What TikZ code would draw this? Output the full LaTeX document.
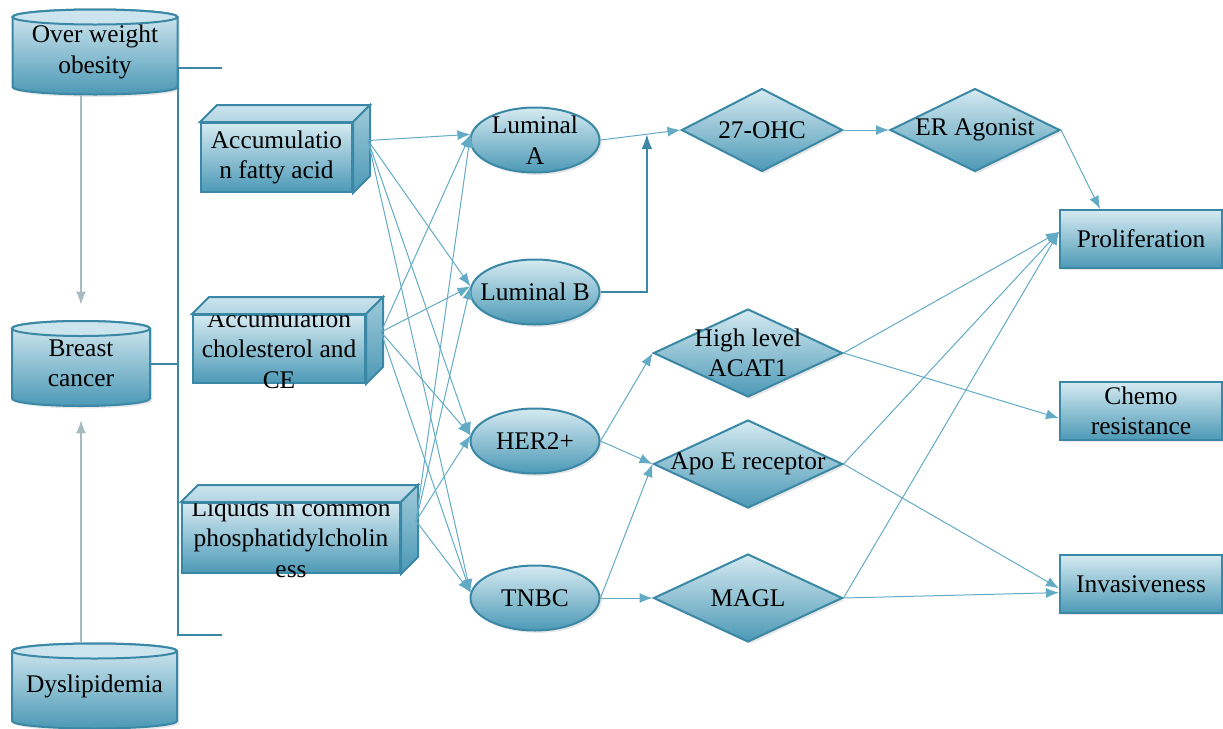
\documentclass[tikz,border=0pt]{standalone}
\usepackage{fontspec}
\setmainfont{Liberation Serif}
\usetikzlibrary{arrows.meta,positioning,shapes.geometric,calc,shadows}
\definecolor{Edge}{HTML}{3A88A5}
\definecolor{Light}{HTML}{D5EAF1}
\definecolor{Deep}{HTML}{4C99B6}
\definecolor{Lid}{HTML}{CBE4ED}
\definecolor{Wire}{HTML}{63AAC5}
\definecolor{Ash}{HTML}{A9BBC2}
\newcommand\dfont{\rmfamily\fontsize{12.7}{15.2}\selectfont}
\tikzset{
  bluefill/.style={draw=Edge, line width=1pt, top color=Light, bottom color=Deep},
  softshadow/.style={drop shadow={opacity=0.18, shadow xshift=1.2pt, shadow yshift=-1.2pt}},
  cyllid/.style={draw=Edge, line width=1pt, fill=Lid},
  cyltext/.style={rectangle, inner sep=0pt, align=center, font=\dfont},
  cube/.style={rectangle, bluefill, inner xsep=0pt, inner ysep=-5pt, align=center, font=\dfont},
  oval/.style={ellipse, bluefill, softshadow, minimum width=64.5pt, minimum height=32.5pt, inner sep=-6pt, align=center, font=\dfont},
  dia/.style={diamond, bluefill, softshadow, shape aspect=2.15, inner sep=-4pt, align=center, font=\dfont},
  outbox/.style={rectangle, bluefill, softshadow, minimum width=81pt, minimum height=29pt, inner sep=1pt, align=center, font=\dfont},
  arr/.style={-{Latex[length=6.5pt,width=5pt]}, draw=Wire, line width=0.5pt},
  grayarr/.style={-{Latex[length=6.5pt,width=5pt]}, draw=Ash, line width=0.6pt},
  elbow/.style={-{Latex[length=7.5pt,width=5.5pt]}, draw=Edge, line width=1pt},
  bracket/.style={draw=Edge, line width=1pt}
}
% cylinder: name, centre, half width, text
\newcommand\drawcyl[4]{%
  \draw[bluefill, softshadow] ($(#2)+(-#3,-35)$) -- ($(#2)+(-#3,35)$)
    arc[start angle=180, end angle=360, x radius=#3*0.5pt, y radius=3.75pt]
    -- ($(#2)+(#3,-35)$)
    arc[start angle=0, end angle=180, x radius=#3*0.5pt, y radius=3.75pt] -- cycle;
  \draw[cyllid] ($(#2)+(0,-35)$) ellipse[x radius=#3*0.5pt, y radius=3.75pt];
  \node[cyltext, minimum width=#3pt, minimum height=35pt] (#1) at (#2) {#4};
}
% top and side of a box
\newcommand\cubefaces[1]{%
  \draw[bluefill, top color=Lid, bottom color=Lid!80!Deep] (#1.north west) -- ++(17,-17)
    -- ($(#1.north east)+(17,-17)$) -- (#1.north east) -- cycle;
  \draw[bluefill, top color=Light!60!Deep, bottom color=Deep] (#1.north east) -- ++(17,-17)
    -- ($(#1.south east)+(17,-17)$) -- (#1.south east) -- cycle;
  \coordinate (#1-o) at ($(#1.east)+(15,-17)$);
}
\begin{document}
\begin{tikzpicture}[x=0.5pt, y=-0.5pt]
\useasboundingbox (0,0) rectangle (1223,729);

% risk factors
\drawcyl{ow}{95,52}{82.5}{Over weight\\obesity}
\drawcyl{bc}{81,363.5}{69}{Breast\\cancer}
\drawcyl{dy}{94.5,686}{82.5}{Dyslipidemia}
\draw[grayarr, shorten <=4pt, shorten >=11.75pt] (ow.south -| bc) -- (bc.north);
\draw[grayarr, shorten <=3.75pt, shorten >=10.75pt] (dy.north -| bc) -- (bc.south);

\coordinate (brk-top) at (222,68);
\coordinate (brk-bot) at (222,635);
\coordinate (brk-mid) at (178,363.5);
\draw[bracket] (brk-top) -- ++(-44,0) |- (brk-bot);
\draw[bracket] (bc.east) -- (brk-mid);

% lipids
\node[cube, minimum width=75.5pt, minimum height=34.5pt] (fa) at (276.5,157.5) {Accumulatio\\n fatty acid};
\node[cube, minimum width=86pt, minimum height=34pt] (ch) at (279,349) {Accumulation\\cholesterol and\\CE};
\node[cube, minimum width=109pt, minimum height=35pt] (lq) at (291,538) {Liquids in common\\phosphatidylcholin\\ess};
\cubefaces{fa}
\cubefaces{ch}
\cubefaces{lq}

% subtypes
\node[oval] (la) at (535,140) {Luminal\\A};
\node[oval] (lb) at (535,292) {Luminal B};
\node[oval] (her) at (535,441) {HER2+};
\node[oval] (tnbc) at (535,598) {TNBC};

% mediators
\node[dia, minimum width=80.5pt, minimum height=41.5pt] (ohc) at (762,130) {27-OHC};
\node[dia, minimum width=85pt, minimum height=41.5pt] (er) at (975,130) {ER Agonist};
\node[dia, minimum width=94.5pt, minimum height=44pt] (acat) at (748,353) {High level\\ACAT1};
\node[dia, minimum width=94.5pt, minimum height=44pt] (apo) at (748,464) {Apo E receptor};
\node[dia, minimum width=94.5pt, minimum height=44pt] (magl) at (748,598) {MAGL};

% outcomes
\node[outbox] (pro) at (1141,239) {Proliferation};
\node[outbox] (chemo) at (1141,411) {Chemo\\resistance};
\node[outbox] (inv) at (1141,584) {Invasiveness};

\foreach \s in {fa,ch,lq}{
  \foreach \t in {la,lb,her,tnbc}{
    \draw[arr] (\s-o) -- (\t.175);
  }
}

\coordinate (join) at ($(la.east)!0.58!(ohc.west)$);
\draw[arr] (la.east) -- (ohc.west);
\draw[elbow] (lb.east) -| (join);
\draw[arr] (ohc.east) -- (er.west);
\draw[arr] (er.east) -- ($(pro.north west)!0.25!(pro.north east)$);

\draw[arr] (her.east) -- (acat.west);
\draw[arr] (her.east) -- (apo.west);
\draw[arr] (tnbc.east) -- (apo.west);
\draw[arr] (tnbc.east) -- (magl.west);

\foreach \d in {acat,apo,magl}{
  \draw[arr] (\d.east) -- (pro.175);
}
\draw[arr] (acat.east) -- (chemo.185);
\draw[arr] (apo.east) -- (inv.183);
\draw[arr] (magl.east) -- (inv.186);
\end{tikzpicture}
\end{document}
